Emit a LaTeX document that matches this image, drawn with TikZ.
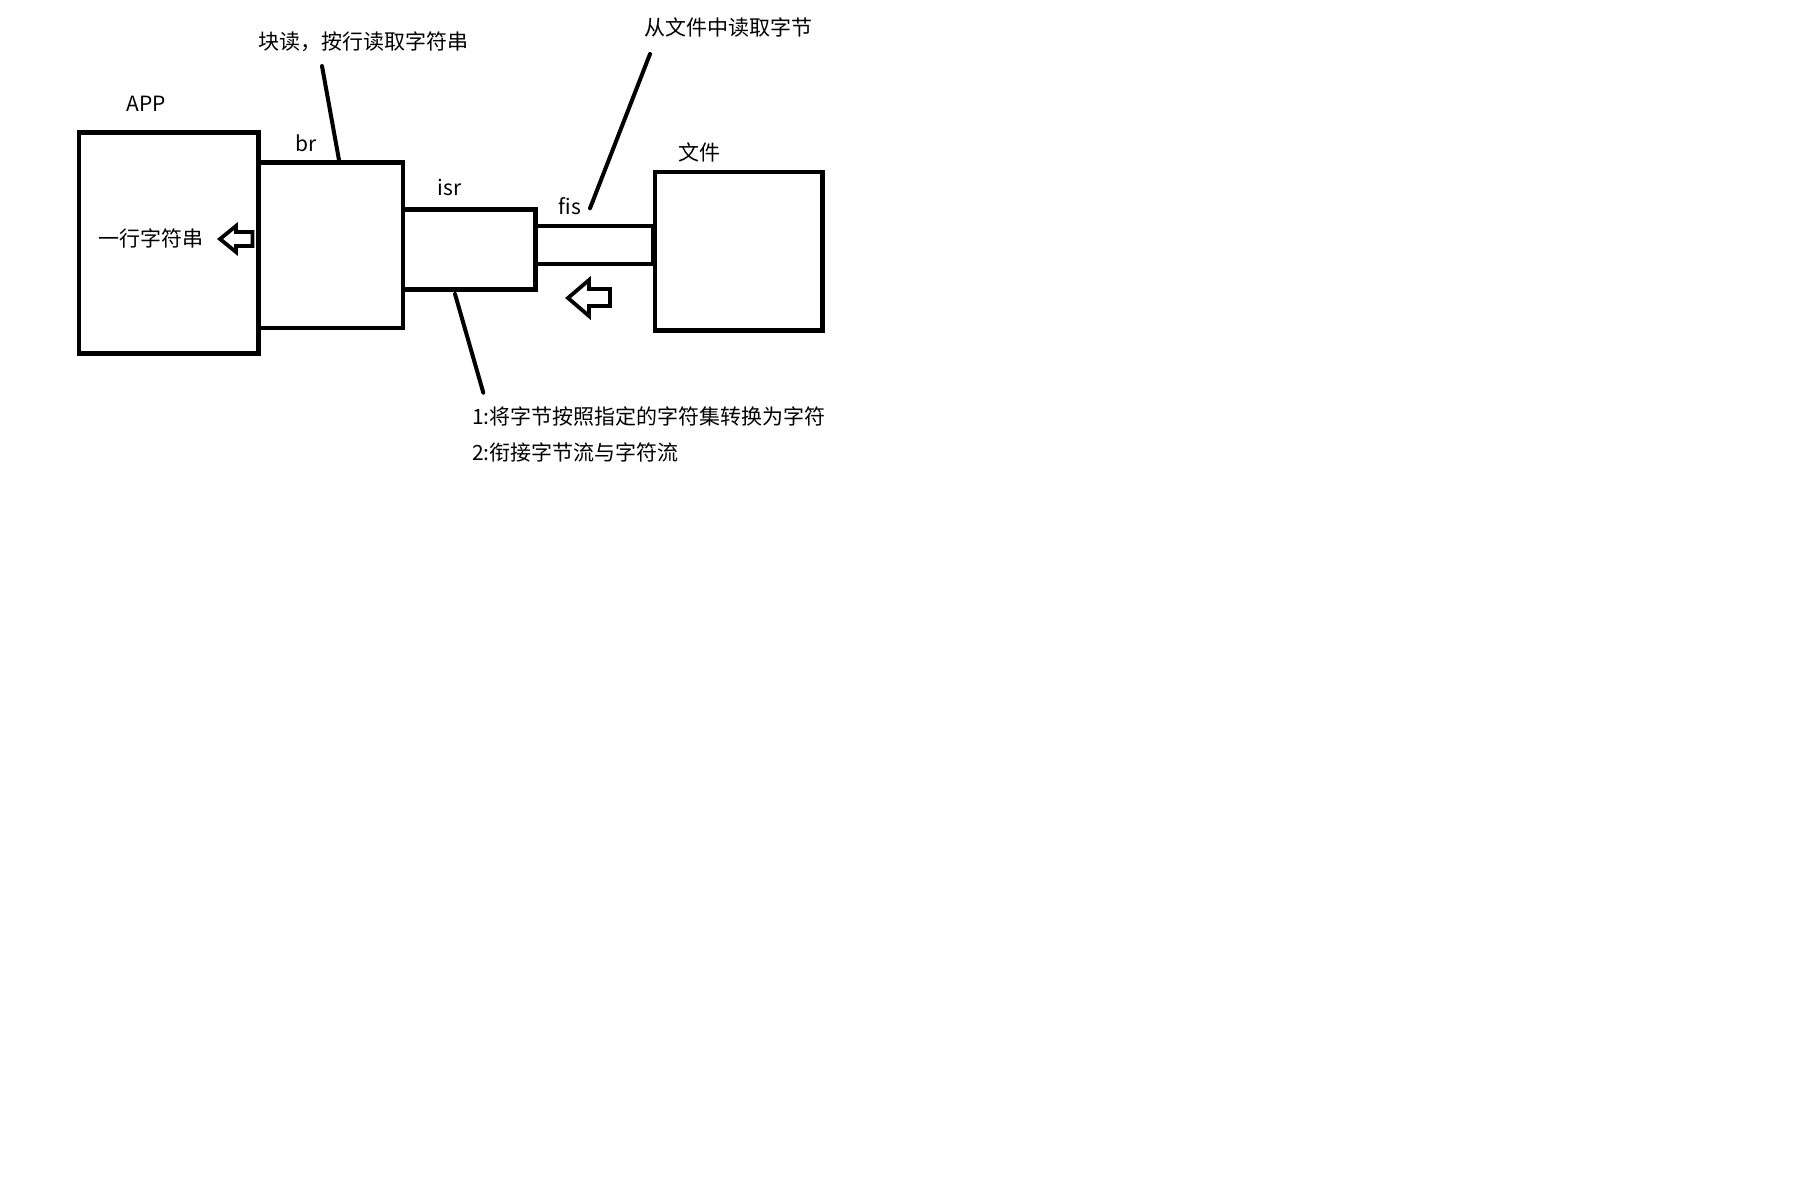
\documentclass[tikz,border=0pt]{standalone}
\usepackage{fontspec}
\setmainfont{Noto Sans CJK SC}
\begin{document}
\begin{tikzpicture}[x=1pt,y=-1pt,
  box/.style={draw=black,line width=4.5pt,rectangle,inner sep=0pt,outer sep=0pt},
  lbl/.style={inner sep=0pt,font=\fontsize{21pt}{25pt}\selectfont},
  leader/.style={draw=black,line width=4pt,line cap=round},
  hollow/.style={draw=black,line width=3.8pt,line join=miter,fill=white}]
\useasboundingbox[fill=white] (0,0) rectangle (1818,1190);
% boxes
\node[box,minimum width=179.5pt,minimum height=221pt] (app) at (168.75,243) {};
\node[box,minimum width=144.5pt,minimum height=165.3pt] (br) at (330.75,245.35) {};
\node[box,minimum width=132.3pt,minimum height=80pt] (isr) at (469.15,249.3) {};
\node[box,minimum width=117.7pt,minimum height=38pt] (fis) at (594.15,245) {};
\node[box,minimum width=167.3pt,minimum height=158.3pt] (file) at (738.65,251.15) {};
% labels
\node[lbl] (tapp) at (146,104) {APP};
\node[lbl] (tbr) at (306,143) {br};
\node[lbl] (tisr) at (449.5,188) {isr};
\node[lbl] (tfis) at (570,206) {fis};
\node[lbl] (tfile) at (699,152) {文件};
\node[lbl] (tline) at (151,238) {一行字符串};
\node[lbl] (tbrnote) at (363,42) {块读，按行读取字符串};
\node[lbl] (tfisnote) at (728,28) {从文件中读取字节};
\node[lbl,anchor=west] (tisr1) at (472,416) {1:将字节按照指定的字符集转换为字符};
\node[lbl,anchor=west] (tisr2) at (472,452) {2:衔接字节流与字符流};
% leader lines
\coordinate (l1a) at (322,66);
\coordinate (l1b) at (339,160);
\coordinate (l2a) at (650,54);
\coordinate (l2b) at (590,208.3);
\coordinate (l3a) at (455,294);
\coordinate (l3b) at (483.3,392.7);
\draw[leader] (l1a) -- (l1b);
\draw[leader] (l2a) -- (l2b);
\draw[leader] (l3a) -- (l3b);
% hollow arrows
\draw[hollow] (220,239) -- (236,226) -- (236,232) -- (252.5,232) -- (252.5,246) -- (236,246) -- (236,252) -- cycle;
\draw[hollow] (568,298) -- (589,280) -- (589,289) -- (610,289) -- (610,306) -- (589,306) -- (589,316) -- cycle;
\end{tikzpicture}
\end{document}
